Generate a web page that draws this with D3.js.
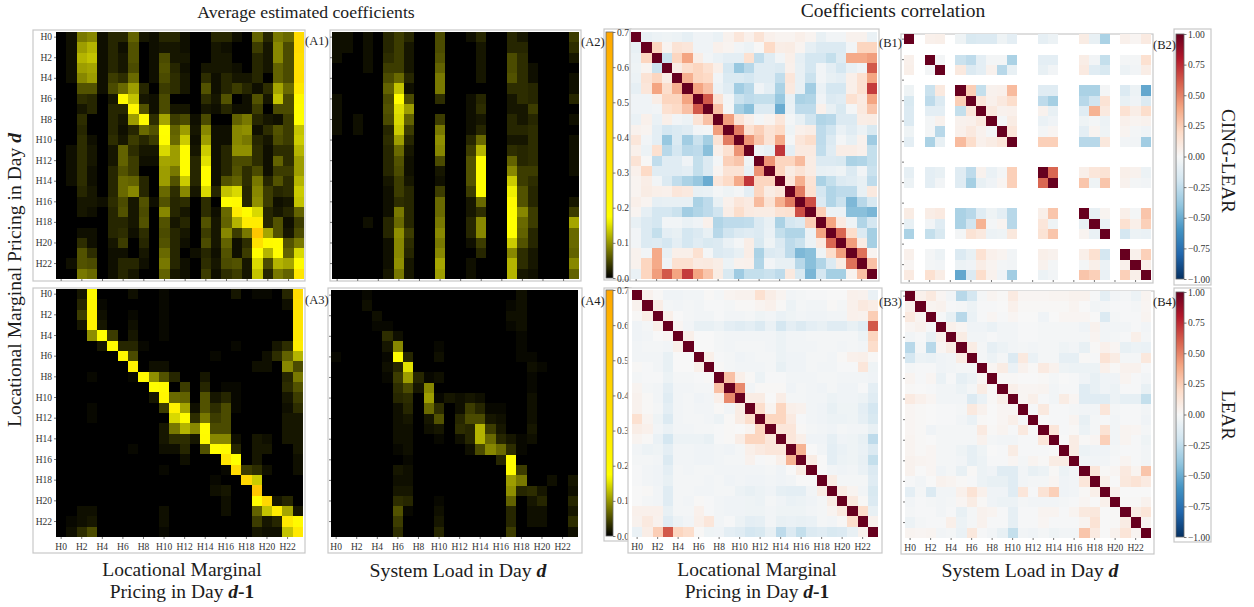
<!DOCTYPE html>
<html>
<head>
<meta charset="utf-8">
<script src="https://cdnjs.cloudflare.com/ajax/libs/d3/7.8.5/d3.min.js"></script>
<style>
body{margin:0;background:#fff;}
text{font-family:"Liberation Serif",serif;fill:#1c1c1c;}
.tick text{font-size:9.5px;fill:#333;}
.tick line{stroke:#555;stroke-width:.8;}
</style>
</head>
<body>
<svg id="chart" width="1254" height="607"></svg>
<script>
var hours = d3.range(24);
var hourLabels = hours.map(function(h){return "H"+h;});
var b2Hours = [0,2,3,5,6,7,8,9,10,13,14,17,18,19,21,22,23];
var coefTicks = [0,.1,.2,.3,.4,.5,.6,.7];
var corrTicks = [-1,-.75,-.5,-.25,0,.25,.5,.75,1];

// coefficient values, in hundredths
var a1Rows = [
[0,1,8,9,1,2.5,2.5,6.5,1.5,1,2.5,2.5,1,0,0,2.5,2.5,1,0,6.5,2.5,8,7,38],
[0,1,10.5,12,1,2.5,1,5.5,0,1,1.5,1.5,1,0,0,1.5,1,0,0,4,1.5,9,5,38],
[0,1,12,13,1,2.5,1.5,5.5,0,1,5,1.5,1.5,0,0,1.5,1.5,0,0,2.5,1.5,9,5,36],
[0,1,10.5,11,1,2.5,1.5,5,0,1,5.5,2.5,1,0,1.5,1.5,1.5,1,0,2.5,1.5,6.5,5,36],
[0,1,9,10.5,1,4,3,7,0,1,5,3,1.5,0,3,1,2.5,1.5,1.5,2.5,0,6.5,5,36],
[0,0,5.5,5.5,1,5,7,10.5,2.5,0,4,3,1.5,0,5.5,1,2.5,4,2.5,1,3,11,7,30],
[0,0,3,2.5,0,1.5,20,13,1.5,1,5,0,0,0,3,1.5,5.5,0,1,5.5,1.5,13,5,20],
[0,0,1.5,2.5,0,2.5,2.5,22,5.5,1,5,1.5,1.5,0,1.5,1,2.5,1,1,4,0,5,5,18],
[0,0,3,0,0,2.5,1.5,10.5,20,3,11,4,5,1,5,0,0,6.5,8,2.5,1.5,1,4,17],
[0,0,2.5,0,0,2.5,1,2.5,7,5.5,17,6.5,10.5,1.5,9,1,1,9,9.5,1,3,5.5,4,13],
[0,0,3,1,0,3,1.5,4,2.5,4,18,7,13.5,1,10.5,1,1,9,8,2.5,1.5,5,4,13.5],
[0,1,3,1.5,0,1.5,6.5,3,1.5,1.5,14.5,10.5,18,1.5,13.5,1,2.5,9.5,9.5,3,1,3,3,12],
[0,1,3,1.5,0,1.5,6.5,4,1,1,11,10.5,18,2.5,15,1,2.5,5,5,3,1,6.5,3,10.5],
[0,1,3,1,0,2.5,5.5,4,0,0,10.5,8,18,2.5,18,1,2.5,5.5,3,5,1,4,4,10.5],
[0,1,3,1,0,2.5,7,6.5,2.5,0,10.5,5.5,13.5,2.5,18,1,5.5,6.5,3,8,2.5,5.5,3,12],
[0,0,2.5,1.5,0,2.5,7,9,2.5,0,7,3,9,1.5,14.5,2.5,13,14.5,2.5,9,4,2.5,3,13.5],
[0,0,1.5,1.5,1,3,5,1.5,5.5,1,5.5,2.5,3,0,3,0,18,20,2.5,9.5,4,1,1.5,13],
[0,0,1.5,1,0,2.5,5.5,1.5,5,0,9,2.5,1.5,0,3,1,7,28,19,14.5,2.5,1.5,2.5,6.5],
[0,0,0,0,0,2.5,2.5,1.5,5.5,0,5.5,1.5,2.5,0,5.5,1.5,6.5,12,28,28,2.5,5.5,1,4],
[0,0,1,1,0,2.5,3,1,3,0,5,2.5,1.5,0,4,1.5,9,4,8,50,11,5.5,1.5,5],
[0,0,3,1,0,1.5,4,0,2.5,0,5.5,2.5,1,0,5,1.5,6.5,1,3,35,20,19,5.5,8],
[0,0,5.5,3,0,1,1,0,1.5,0,7,2.5,0,1,2.5,1,5.5,1,4,18,12,18,6.5,14.5],
[0,1,5.5,5,0,1,2.5,2.5,1,0,8,2.5,1,0,3,1.5,5,5.5,1.5,14.5,5,12,11,19],
[0,0,8,7,0,1,2.5,1.5,0,0,6.5,1.5,1,0,4,1,3,4,1.5,13,2.5,8,6.5,32]
];
var a2Rows = [
[1,1,0,1,0,2.5,4,2.5,0,0,5,0,0,1,2.5,0,0,2.5,1.5,0,0,0,0,4],
[1,1,0,1,0,2.5,4,1.5,0,0,5,0,0,0,1.5,0,0,2.5,2.5,0,0,0,0,3],
[1,0,0,1,0,3,4,1.5,0,0,5.5,0,0,0,1.5,0,0,5,3,0,0,0,0,1.5],
[0,0,0,1,0,4,4,1.5,0,0,6.5,0,0,0,1.5,0,0,5,3,1,0,0,0,0],
[0,0,0,0,0,5,7,2.5,0,0,8,0,0,0,1.5,0,0,5.5,3,1,0,0,0,1],
[0,0,0,0,0,6.5,13,1,0,0,8,0,0,0,0,0,0,3,3,2.5,0,0,0,1],
[1,0,0,0,0,5,18,5,0,0,3,0,0,1,2.5,0,0,1.5,3,2.5,0,0,0,2.5],
[1,0,0,0,0,5.5,15,10.5,0,0,0,0,0,1,3,0,0,1.5,1.5,4,0,0,0,0],
[1,0,1,0,0,5,14.5,6.5,0,0,4,0,0,1,1.5,0,0,2.5,1.5,2.5,0,0,0,1],
[1,0,1,0,0,2.5,13.5,4,0,0,8,0,0,1,2.5,0,0,2.5,2.5,3,0,0,0,0],
[0,0,0,0,0,3,10.5,2.5,0,0,9.5,0,0,2.5,7,0,0,1.5,1.5,3,0,0,0,1],
[0,0,0,0,0,2.5,7,1.5,0,0,9,0,0,4,12,0,0,3,2.5,3,0,0,0,1],
[0,0,0,0,0,2.5,5.5,1,0,0,5,0,0,5.5,18,0,0,6.5,2.5,3,0,0,0,1],
[0,0,0,0,0,2.5,5,1,0,0,1.5,0,0,5.5,18,0,0,9,4,4,0,0,0,1],
[0,0,0,0,0,1.5,4,1.5,0,0,1,0,0,5.5,18,0,0,13.5,4,3,0,0,0,0],
[0,0,0,0,0,1,4,2.5,0,0,4,0,0,4,18,0,0,16,5.5,2.5,0,0,0,0],
[0,0,0,0,0,1,3,2.5,0,0,7,0,0,1.5,7,0,0,20,5.5,2.5,0,0,0,1.5],
[0,0,0,0,0,1,8,2.5,0,0,7,0,0,1.5,3,0,0,18,9,4,0,0,0,4],
[0,0,0,1,0,2.5,7,2.5,0,0,8,0,0,2.5,9,0,0,17,7,4,0,0,0,11],
[0,0,0,0,0,2.5,9.5,4,0,0,9,0,0,2.5,9,0,0,17,6.5,2.5,0,0,0,7],
[0,0,0,0,0,1,9,3,0,0,8,0,0,1,4,0,0,13.5,5.5,2.5,0,0,0,7],
[0,0,0,0,0,1,9,2.5,0,0,9,0,0,0,2.5,0,0,9,3,1.5,0,0,0,6.5],
[0,0,0,0,0,1,9.5,1.5,0,0,11,0,0,1,0,0,0,12,3,1.5,0,0,0,9],
[0,0,0,0,0,1.5,8,1.5,0,0,10.5,0,0,1,0,0,0,12,1.5,1,0,0,0,6.5]
];
var a3Rows = [
[0,0,1.5,20,0,0,0,1,0,0,.5,0,0,0,0,0,0,1.5,0,.5,.5,0,2.5,38],
[0,0,2.5,22,.5,0,0,0,0,0,.5,0,0,0,0,0,0,0,0,0,0,0,1,36],
[0,0,4,25,1,0,0,.5,0,0,.5,0,0,0,0,0,0,0,0,0,0,0,0,33],
[0,0,1.5,25,1.5,0,0,1,0,0,.5,0,0,0,0,0,0,0,0,0,0,0,0,32],
[0,0,0,9.5,17,4,0,1.5,0,0,.5,0,0,0,0,0,0,0,0,0,0,0,0,30],
[0,0,0,0,1.5,18,2.5,2.5,.5,0,0,0,0,0,0,0,0,.5,0,0,0,1.5,3,28],
[0,0,0,0,0,0,22,5,0,0,0,0,0,0,0,.5,0,0,0,0,1,3,6.5,12],
[0,0,0,0,0,0,0,25,0,1,1,0,0,0,0,0,0,0,0,1,1,0,9,5],
[0,0,0,.5,0,0,0,.5,20,9.5,5.5,2.5,0,0,1.5,0,0,0,0,0,0,0,2.5,8],
[0,0,0,0,0,0,0,0,0,18,20,0,4,0,2.5,0,.5,.5,0,0,0,0,3,5.5],
[0,0,0,0,0,0,0,0,0,1.5,22,7,6.5,0,5.5,1.5,2.5,.5,0,0,0,0,1.5,4],
[0,0,0,.5,0,0,0,0,0,0,4,25,11,1,5.5,3,5,.5,0,0,0,0,1,3],
[0,0,0,.5,0,0,0,0,0,0,0,14.5,19,3,8,4,5,0,0,0,0,0,1.5,1.5],
[0,0,0,0,0,0,0,0,0,0,1.5,8,12,9,19,5,5,0,0,0,0,0,1.5,1.5],
[0,0,0,0,0,0,0,0,0,0,1.5,3,3,1.5,20,9,9,1,0,1.5,1,0,1.5,1.5],
[0,0,0,0,0,0,0,.5,0,0,1,1,2.5,0,5.5,18,20,2.5,0,1.5,1.5,0,0,1.5],
[0,0,0,0,0,0,0,0,0,0,0,0,1,0,0,0,32,17,0,1.5,0,0,0,1],
[0,0,0,0,0,0,0,0,0,0,.5,0,0,0,0,0,.5,38,4,3,1,0,0,1],
[0,0,0,0,0,0,0,0,0,0,0,0,0,0,0,.5,0,0,40,13.5,0,0,0,0],
[0,0,0,0,0,0,0,0,0,0,0,0,0,0,0,1,1.5,0,0,50,0,0,0,0],
[0,0,0,0,0,0,0,0,0,0,0,0,0,0,0,0,1,0,0,18,40,1.5,2.5,0],
[0,0,1,1,0,0,0,0,0,0,1,0,0,0,0,0,1,0,0,6.5,13,28,11,1.5],
[0,.5,1,1.5,0,0,0,0,0,0,1,0,0,0,0,0,0,0,0,4,1.5,2.5,30,20],
[0,1,3,5,0,0,0,0,0,0,.5,0,0,0,0,0,0,0,0,1.5,1,1,13,30]
];
var a4Rows = [
[0,0,0,.5,0,0,0,0,0,0,0,0,0,0,0,0,0,0,1,0,0,0,0,0],
[0,0,0,1,0,0,0,0,0,0,0,0,0,0,0,0,0,.5,1,0,0,0,0,0],
[0,0,0,0,1,0,0,0,0,0,0,0,0,0,0,0,0,1,1,0,0,0,0,0],
[0,0,0,0,.5,.5,0,0,0,0,0,0,0,0,0,0,0,.5,1,0,0,0,0,0],
[0,0,0,0,0,3,1,0,0,0,0,0,0,0,0,0,0,0,.5,0,0,0,0,0],
[0,0,0,0,0,1.5,9,0,0,0,.5,0,0,0,0,0,0,0,.5,0,0,0,0,0],
[.5,0,0,0,0,.5,18,2.5,0,0,1,0,0,0,0,0,0,0,.5,.5,0,0,0,0],
[0,0,0,0,0,1,2.5,15,0,0,0,0,0,0,0,0,0,0,0,1,.5,0,0,0],
[0,0,0,0,0,.5,4,10.5,2.5,.5,1,0,0,0,0,0,0,0,0,.5,0,0,0,0],
[0,0,0,0,0,0,3,5,1.5,9,0,0,0,0,0,0,0,0,0,.5,0,0,0,0],
[0,0,0,0,0,0,2.5,3,0,10.5,.5,1.5,1,1.5,1,0,0,0,0,1,0,0,0,0],
[0,0,0,0,0,0,1,2.5,0,7,3,0,1,4,2.5,.5,.5,0,0,1,0,0,0,0],
[0,0,0,0,0,0,1,1.5,0,1.5,5.5,0,2.5,5,5,1.5,1,0,0,1,0,0,0,0],
[0,0,0,0,0,0,1,1,0,1,1.5,0,3,2.5,12,4,1.5,0,0,1.5,0,0,0,0],
[0,0,0,0,0,0,1,1,0,0,.5,0,1,2.5,12,7,2.5,1.5,.5,1,0,0,0,0],
[0,0,0,0,0,0,.5,1,0,0,0,0,0,1,5,9,7,3,.5,0,0,0,0,0],
[0,0,0,0,0,0,0,.5,0,0,0,0,0,0,0,0,2.5,18,0,0,0,0,0,0],
[0,0,0,0,0,0,1.5,1,0,0,0,0,0,0,0,0,0,18,4,0,0,0,0,0],
[0,0,0,0,0,0,1,1,0,0,0,0,0,0,0,0,0,10.5,8,0,0,1,0,1.5],
[0,0,0,0,0,0,1.5,1.5,0,0,0,0,0,0,0,0,0,9.5,2.5,3,1.5,0,0,1],
[0,0,0,0,0,0,3,2.5,0,0,.5,0,0,0,0,0,0,6.5,0,1.5,2.5,0,0,2.5],
[0,0,0,0,0,0,5.5,.5,0,0,1,0,0,0,0,0,0,2.5,0,1,1,0,0,1.5],
[0,0,0,0,0,0,4,0,0,0,1.5,0,0,0,0,0,0,2.5,0,1,1,0,0,3],
[0,0,0,0,0,0,3,0,0,0,2.5,0,0,0,0,0,0,4,0,0,0,0,0,1]
];

// correlations, in hundredths, upper triangle without the diagonal
var b1Upper = [
[-8,-6,-5,-6,-9,-4,-4,-7,4,12,5,14,5,3,3,6,3,-8,-3,-3,4,4,-7],
[22,3,14,12,-4,-4,5,3,-3,-6,1,20,7,8,3,-9,-14,-14,-14,-3,22,22],
[-22,22,40,7,-3,-7,-10,-10,16,-25,-12,-3,6,-9,-18,-18,-24,-13,38,38,42],
[8,18,22,16,6,-18,-38,-28,-12,-12,-14,5,-8,-18,-3,-10,-18,-8,-4,62],
[36,22,20,-3,-15,-15,-18,-12,-12,-25,12,-8,-22,-3,-8,-10,6,16,40],
[40,30,-6,-12,-35,-28,-4,-10,-32,10,-8,-35,-7,-18,-18,6,16,70],
[62,14,-3,-22,-26,-24,-24,-38,-8,-32,-30,-4,-14,-12,16,9,40],
[30,-2,-34,-42,-14,-14,-50,-7,-26,-26,5,-8,-16,-2,10,28],
[42,14,6,-2,3,12,-2,-8,-20,-30,-28,-14,-14,7,8],
[52,16,24,14,20,-5,5,7,-26,-20,-7,-12,-6,-16],
[45,28,14,38,-2,12,18,-26,-14,-2,-8,4,-36],
[-5,-8,72,-10,9,9,-25,-12,7,7,5,-24],
[45,22,22,32,8,-14,-14,-16,-32,-30,-24],
[22,8,14,8,-8,-7,-5,-14,-3,-22],
[12,36,14,-32,-24,-14,-12,-8,-26],
[52,16,-18,-30,-26,-26,-8,10],
[65,-14,-30,-22,-45,-28,-16],
[25,-6,-6,-42,-42,-46],
[40,9,-5,-30,-18],
[58,18,-14,-34],
[42,8,-34],
[55,3],
[30]
];
var b2Upper = [
[5,6,-5,-16,-14,-14,-5,-10,-9,-6,8,-8,-32,5,2,9],
[-2,-22,-26,-10,-2,-2,-32,-10,-10,7,-3,-24,-2,-2,16],
[10,-14,-10,4,-28,-8,-8,-3,9,-12,-16,-6,-3,7],
[25,-24,4,5,32,-12,-12,-32,-32,-2,-14,-6,-52],
[12,5,10,18,-26,-34,-28,-20,14,-8,-4,-14],
[10,4,5,4,-8,-12,35,10,15,7,18],
[-2,8,-7,-4,-5,-2,-6,5,3,4],
[12,-2,2,-10,3,-5,3,-2,-4],
[24,24,-28,-28,11,-3,-3,-35],
[58,6,12,14,6,4,-6],
[28,-5,28,4,-2,-3],
[-8,3,6,-2,28],
[-7,16,6,24],
[-18,-6,-7],
[5,24],
[6]
];
var b3Upper = [
[4,1,-4,-4,-3,-3,1,-2,3,4,4,16,7,3,-3,-2,-1,-1,0,0,5,4,-7],
[7,-2,-3,-2,-3,-1,-1,-2,1,1,3,5,1,-6,-2,-3,-3,1,-2,5,10,7],
[6,0,-2,-3,-3,-1,-3,-3,-2,-5,-3,-7,-5,-3,-4,-4,-3,-3,5,4,25],
[2,-3,-8,-8,-6,-10,-12,-10,-14,-7,-18,-10,-14,-10,-8,-12,-12,-8,-12,62],
[6,0,0,-2,-3,-3,-3,-3,-3,-6,-3,-3,-2,-2,-2,-2,-2,-6,22],
[0,0,-2,-3,-2,-2,-2,-3,-6,-3,-3,-3,-2,-2,-3,-2,-3,18],
[6,-1,-2,-4,-3,-2,-2,-6,-4,-4,-2,-2,-3,1,5,6,1],
[1,-2,-3,-3,-3,-2,-8,-4,-4,-2,-3,-3,-1,-1,12,-5],
[30,6,1,-6,-1,-1,-3,-3,-3,-2,-2,-3,-3,-3,-4],
[48,-3,1,1,1,-4,-2,-3,-4,-2,-4,-4,-1,-10],
[8,8,0,7,-2,-2,-3,-3,-6,-4,-4,-6,-12],
[18,3,22,6,4,-3,-4,-8,-5,-5,-10,-18],
[22,22,9,-1,-3,-4,-6,-6,-5,-9,-16],
[12,12,1,-2,-3,-4,-2,-3,-3,-8],
[12,6,-4,-4,-9,-4,-5,-8,-26],
[35,0,-3,-10,-7,-5,-7,-14],
[8,0,-10,-6,-5,-8,-24],
[0,-3,-4,-3,-7,-14],
[8,-2,-2,-2,-12],
[8,3,-3,-16],
[10,1,-14],
[18,-8],
[4]
];
var b4Upper = [
[5,10,2,-3,-28,-18,-2,3,1,9,2,2,2,3,3,4,4,-1,-10,-3,-2,-6,3],
[3,4,-1,-2,-6,-1,-1,0,5,1,1,1,1,1,3,0,-3,-2,-1,-1,-2,2],
[-1,-8,-28,-7,-1,2,-1,2,0,0,-4,0,2,2,2,0,-14,-2,-1,-1,3],
[5,2,-4,-4,-7,-3,-3,-1,-1,-2,-2,-2,-2,-4,4,-3,-3,-3,-1,-3],
[8,-3,-3,-1,-3,-3,-1,-1,-2,-2,-2,-2,-2,3,-3,-2,-1,6,-2],
[8,-2,-9,-6,-3,-2,-3,-2,-2,-5,-3,-8,1,5,2,-8,-6,-7],
[-2,-6,-2,-14,10,-7,-2,-2,-9,-9,1,-1,14,8,-2,-2,11],
[2,8,-7,4,1,9,4,-5,-6,-6,-6,5,1,4,4,-1],
[1,1,0,0,1,-2,0,-1,-4,-8,-4,-4,3,-1,-3],
[6,2,2,3,-3,-1,-1,-12,-8,-4,-6,-1,-1,-8],
[2,6,-1,-3,8,2,-12,-12,-12,-6,-9,-9,-24],
[-1,10,-1,-1,-2,-3,-3,12,-2,-1,-1,-3],
[0,-1,-1,3,-8,-2,-1,-3,-1,-1,-4],
[12,-1,1,-6,-2,14,-3,3,2,-2],
[0,8,1,2,24,-3,3,-1,-5],
[8,-6,-4,-4,-2,-1,-1,-3],
[-3,-3,-3,-1,3,-1,-3],
[12,1,2,10,3,28],
[6,0,11,14,9],
[5,0,0,0],
[1,1,4],
[8,13],
[3]
];

// mirror an upper triangle into a full matrix, hours left out stay empty
function fromUpper(upper, kept)
{
	var m = hours.map(function(){return hours.map(function(){return null;});});
	kept.forEach(function(h,i){
		m[h][h] = 100;
		if(i>=upper.length) return;
		upper[i].forEach(function(v,j){
			m[h][kept[i+1+j]] = v;
			m[kept[i+1+j]][h] = v;
		});
	});
	return m;
}

var coefColor = d3.scaleLinear().domain([0,.17,.7]).range(["#000000","#ffff00","#ffa500"]).clamp(true);
var corrColor = d3.scaleLinear().domain(d3.range(-1,1.01,.2))
	.range(["#053061","#2166ac","#4393c3","#92c5de","#d1e5f0","#f7f7f7","#fddbc7","#f4a582","#d6604d","#b2182b","#67001f"]).clamp(true);

var svg = d3.select("#chart");
var defs = svg.append("defs");
defs.append("filter").attr("id","soft").attr("x","-2%").attr("y","-2%").attr("width","104%").attr("height","104%")
	.attr("color-interpolation-filters","sRGB")
	.append("feGaussianBlur").attr("stdDeviation",.45);

function gradient(id, fn, domain)
{
	var g = defs.append("linearGradient").attr("id",id).attr("x1",0).attr("x2",0).attr("y1",1).attr("y2",0);
	d3.range(0,41).forEach(function(i){
		var t = i/40;
		g.append("stop").attr("offset",t).attr("stop-color",fn(domain[0]+t*(domain[1]-domain[0])));
	});
}
gradient("coefGrad",coefColor,[0,.7]);
gradient("corrGrad",corrColor,[-1,1]);

function frame(x0,y0,x1,y1)
{
	svg.append("rect").attr("x",x0).attr("y",y0).attr("width",x1-x0).attr("height",y1-y0)
		.attr("fill","#fff").attr("stroke","#c8c8c8").attr("stroke-width",1.2);
}

function heatmap(p)
{
	frame(p.box[0],p.box[1],p.box[2],p.box[3]);
	var x = d3.scaleBand().domain(hours).range([p.x0,p.x1]);
	var y = d3.scaleBand().domain(hours).range([p.y0,p.y1]);
	var cells = [];
	p.rows.forEach(function(row,r){
		row.forEach(function(v,c){
			if(v!==null) cells.push({r:r,c:c,v:v/100});
		});
	});
	svg.append("g").attr("filter","url(#soft)").attr("shape-rendering","crispEdges")
		.selectAll("rect").data(cells).enter().append("rect")
		.attr("x",function(d){return x(d.c);})
		.attr("y",function(d){return y(d.r);})
		.attr("width",x.bandwidth())
		.attr("height",y.bandwidth())
		.attr("fill",function(d){return p.color(d.v);});
	var even = hours.filter(function(h){return h%2==0;});
	var bottom = d3.axisBottom(x).tickValues(even).tickSize(2).tickPadding(4)
		.tickFormat(function(h){return p.xLabels?hourLabels[h]:"";});
	var gx = svg.append("g").attr("transform","translate(0,"+p.y1+")").call(bottom);
	gx.select(".domain").remove();
	if(p.yTicks)
	{
		var left = d3.axisLeft(y).tickValues(even).tickSize(2).tickPadding(2)
			.tickFormat(function(h){return p.yLabels?hourLabels[h]:"";});
		var gy = svg.append("g").attr("transform","translate("+p.x0+",0)").call(left);
		gy.select(".domain").remove();
	}
}

function colorbar(c)
{
	frame(c.box[0],c.box[1],c.box[2],c.box[3]);
	svg.append("rect").attr("x",c.x0).attr("y",c.y0).attr("width",c.x1-c.x0).attr("height",c.y1-c.y0)
		.attr("fill","url(#"+c.grad+")").attr("stroke","#666").attr("stroke-width",.8);
	var s = d3.scaleLinear().domain(c.domain).range([c.y1,c.y0]);
	var ax = d3.axisRight(s).tickValues(c.ticks).tickSize(2.5).tickPadding(1.5).tickFormat(d3.format(c.fmt));
	var g = svg.append("g").attr("transform","translate("+c.x1+",0)").call(ax);
	g.select(".domain").remove();
}

function label(x,y,str,size,anchor)
{
	return svg.append("text").attr("x",x).attr("y",y).attr("font-size",size)
		.attr("text-anchor",anchor||"middle").text(str);
}
function boldPart(t,str,italic)
{
	t.append("tspan").attr("font-weight","bold").attr("font-style",italic?"italic":"normal").text(str);
}

heatmap({rows:a1Rows,color:coefColor,box:[33,30,305,281],x0:56,x1:304,y0:32,y1:279,yTicks:true,yLabels:true});
heatmap({rows:a2Rows,color:coefColor,box:[330,30,581,281],x0:332,x1:579,y0:32,y1:279,yTicks:true});
heatmap({rows:a3Rows,color:coefColor,box:[33,288,305,553],x0:56,x1:303,y0:289,y1:537,yTicks:true,yLabels:true,xLabels:true});
heatmap({rows:a4Rows,color:coefColor,box:[328,288,582,553],x0:331,x1:578,y0:290,y1:537,yTicks:true,xLabels:true});
colorbar({box:[604,29,631,280],x0:606,x1:613,y0:32,y1:278,grad:"coefGrad",domain:[0,.7],ticks:coefTicks,fmt:".1f"});
colorbar({box:[604,288,631,541],x0:606,x1:613,y0:290,y1:536,grad:"coefGrad",domain:[0,.7],ticks:coefTicks,fmt:".1f"});
heatmap({rows:fromUpper(b1Upper,hours),color:corrColor,box:[630,29,879,281],x0:631,x1:877,y0:32,y1:279});
heatmap({rows:fromUpper(b2Upper,b2Hours),color:corrColor,box:[901,34,1153,283],x0:904,x1:1151,y0:34,y1:280,yTicks:true});
heatmap({rows:fromUpper(b3Upper,hours),color:corrColor,box:[628,288,882,553],x0:632,x1:878,y0:290,y1:537,xLabels:true});
heatmap({rows:fromUpper(b4Upper,hours),color:corrColor,box:[901,291,1154,554],x0:905,x1:1151,y0:291,y1:538,yTicks:true,xLabels:true});
colorbar({box:[1174,29,1211,285],x0:1176,x1:1184,y0:34,y1:279,grad:"corrGrad",domain:[-1,1],ticks:corrTicks,fmt:".2f"});
colorbar({box:[1174,288,1211,542],x0:1176,x1:1184,y0:292,y1:537,grad:"corrGrad",domain:[-1,1],ticks:corrTicks,fmt:".2f"});

label(306,18,"Average estimated coefficients",17.7);
label(893,17,"Coefficients correlation",19.5);

var yTitle = svg.append("text").attr("transform","translate(21,280) rotate(-90)").attr("text-anchor","middle").attr("font-size",19.6).text("Locational Marginal Pricing in Day ");
boldPart(yTitle,"d",true);

[182,757].forEach(function(cx){
	label(cx,575.5,"Locational Marginal",19.5);
	var t = label(cx,597.5,"Pricing in Day ",19.5);
	boldPart(t,"d",true);
	boldPart(t,"-1",false);
});
[458,1030].forEach(function(cx){
	var t = label(cx,577,"System Load in Day ",19.8);
	boldPart(t,"d",true);
});

svg.append("text").attr("transform","translate(1222,161) rotate(90)").attr("text-anchor","middle").attr("font-size",19.3).text("CING-LEAR");
svg.append("text").attr("transform","translate(1222,415) rotate(90)").attr("text-anchor","middle").attr("font-size",19).text("LEAR");

var panelTags = [["(A1)",305,45],["(A2)",581,46],["(B1)",879,47],["(B2)",1153,49],["(A3)",305,304],["(A4)",581,305],["(B3)",879,306],["(B4)",1153,306]];
panelTags.forEach(function(p){ label(p[1],p[2],p[0],12.5,"start"); });
</script>
</body>
</html>
